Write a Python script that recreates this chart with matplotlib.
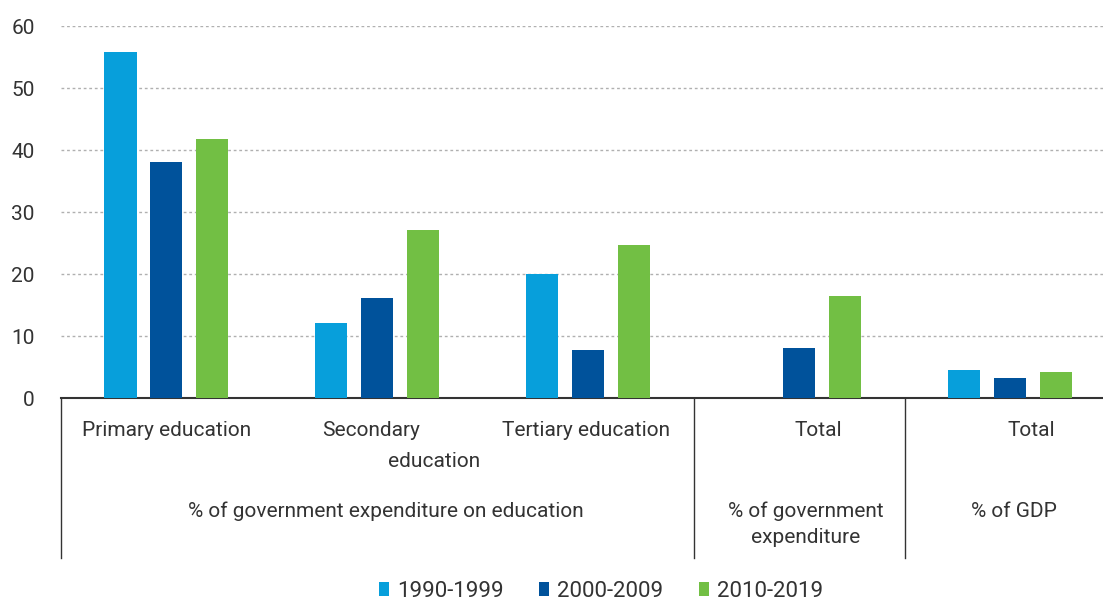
import matplotlib.pyplot as plt
import numpy as np

plt.rcParams['font.family'] = ['Roboto', 'DejaVu Sans']

periods = ["1990-1999", "2000-2009", "2010-2019"]
colors = ["#079fdb", "#00529b", "#72bf44"]
# values per category, one list per period (None = no data)
v1990 = [55.8, 12.1, 20.0, None, 4.5]
v2000 = [38.1, 16.1, 7.7, 8.1, 3.2]
v2010 = [41.8, 27.1, 24.7, 16.5, 4.2]
series = [v1990, v2000, v2010]

fig = plt.figure(figsize=(11.03, 6.05), dpi=100)
ax = fig.add_axes([61 / 1103, 1 - 398 / 605, 1042 / 1103, 372 / 605])

x = np.arange(5)
width = 0.152
step = 0.218
for i, (vals, col, lab) in enumerate(zip(series, colors, periods)):
    xs = [xx + (i - 1) * step for xx, v in zip(x, vals) if v is not None]
    ys = [v for v in vals if v is not None]
    ax.bar(xs, ys, width=width, color=col, label=lab, zorder=3)

ax.set_xlim(-0.5, 4.44)
ax.set_ylim(0, 60)
ax.set_yticks(range(0, 61, 10))
ax.set_xticks([])
for y in range(10, 61, 10):
    ax.axhline(y, color="#b0b0b0", lw=1, ls=(0, (2, 2)), zorder=1)
for s in ["left", "right", "top"]:
    ax.spines[s].set_visible(False)
ax.spines["bottom"].set_color("#333333")
ax.spines["bottom"].set_linewidth(1.5)
ax.tick_params(axis="y", length=0, labelsize=15, labelcolor="#333333", pad=19)

tr = ax.get_xaxis_transform()
for xv in [-0.5, 2.5, 3.5]:
    ax.plot([xv, xv], [0, -0.43], transform=tr, color="#333333", lw=1, clip_on=False)

txt = dict(transform=tr, ha="center", va="center", fontsize=15, color="#333333")
y1 = -0.087
y2 = -0.17
ax.text(0.0, y1, "Primary education", **txt)
ax.text(0.97, y1, "Secondary", **txt)
ax.text(1.27, y2, "education", **txt)
ax.text(1.99, y1, "Tertiary education", **txt)
ax.text(3.09, y1, "Total", **txt)
ax.text(4.10, y1, "Total", **txt)
ax.text(1.04, -0.305, "% of government expenditure on education", **txt)
ax.text(3.03, -0.34, "% of government\nexpenditure", linespacing=1.45, **txt)
ax.text(4.02, -0.305, "% of GDP", **txt)

fig.legend(loc="lower center", bbox_to_anchor=(0.545, -0.028), ncol=3, frameon=False,
           fontsize=16, handlelength=0.45, handleheight=0.6, handletextpad=0.35,
           columnspacing=1.6, labelcolor="#333333")

fig.savefig("out.png", dpi=100)
